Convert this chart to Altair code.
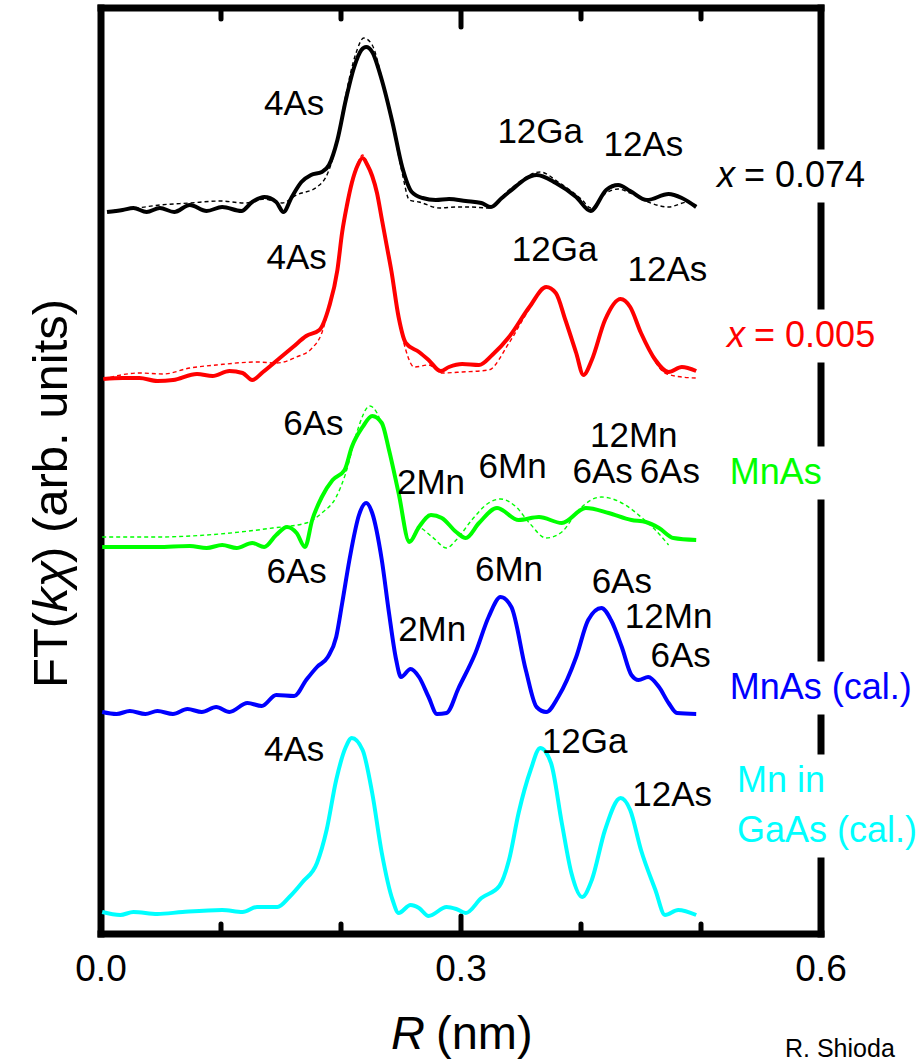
import altair as alt
import pandas as pd

FONT = "Liberation Sans"

# ---------------- data ----------------
# R in nm, FT magnitude in arb. units above each curve's own baseline
black_R = [0.005, 0.018, 0.027, 0.038, 0.049, 0.061, 0.074, 0.088, 0.101, 0.117,
           0.126, 0.136, 0.146, 0.152, 0.159, 0.167, 0.175, 0.184, 0.190, 0.197,
           0.204, 0.211, 0.217, 0.221, 0.226, 0.234, 0.243, 0.251, 0.259, 0.268,
           0.279, 0.290, 0.304, 0.317, 0.325, 0.334, 0.340, 0.363, 0.379, 0.396,
           0.408, 0.421, 0.431, 0.441, 0.455, 0.473, 0.484, 0.496]
black_ft = [0, 2, 4, 0, 4, 0, 7, 1, 5, 1,
            10, 15, 10, 0, 15, 30, 37, 40, 47, 72,
            112, 145, 162, 165, 160, 132, 89, 45, 20, 14,
            12, 13, 11, 9, 5, 14, 20, 37, 29, 15,
            1, 22, 27, 21, 12, 18, 14, 5]

black_fit_R = [0.005, 0.024, 0.049, 0.074, 0.099, 0.120, 0.136, 0.151, 0.163, 0.180,
               0.189, 0.197, 0.204, 0.212, 0.219, 0.226, 0.234, 0.243, 0.251, 0.257,
               0.265, 0.282, 0.296, 0.307, 0.323, 0.340, 0.366, 0.381, 0.401, 0.408,
               0.421, 0.431, 0.441, 0.456, 0.473, 0.489, 0.496]
black_fit_ft = [1, 3, 7, 9, 11, 9, 13, 9, 17, 25,
                39, 72, 117, 157, 174, 167, 134, 87, 39, 12,
                10, 4, 5, 5, 4, 22, 40, 30, 12, 4,
                19, 23, 19, 10, 5, 10, 7]

red_R = [0.002, 0.018, 0.032, 0.047, 0.060, 0.080, 0.093, 0.107, 0.118, 0.126,
         0.135, 0.149, 0.160, 0.171, 0.182, 0.190, 0.197, 0.201, 0.205, 0.209,
         0.214, 0.218, 0.222, 0.226, 0.230, 0.234, 0.238, 0.242, 0.248, 0.254,
         0.265, 0.273, 0.283, 0.290, 0.301, 0.315, 0.326, 0.340, 0.357, 0.371,
         0.379, 0.387, 0.396, 0.402, 0.409, 0.420, 0.433, 0.441, 0.450, 0.462,
         0.473, 0.484, 0.496]
red_ft = [0, 1, 1, -2, -1, 5, 3, 8, 6, -1,
          7, 21, 32, 43, 49, 72, 109, 147, 174, 196,
          214, 221, 214, 203, 186, 160, 134, 108, 62, 36,
          27, 19, 8, 12, 15, 14, 24, 42, 72, 92,
          86, 59, 26, 4, 19, 59, 80, 72, 46, 19,
          7, 12, 8]

red_fit_R = [0.002, 0.032, 0.052, 0.074, 0.096, 0.130, 0.146, 0.163, 0.176, 0.184,
             0.190, 0.197, 0.201, 0.205, 0.209, 0.214, 0.218, 0.222, 0.226, 0.230,
             0.234, 0.238, 0.242, 0.248, 0.254, 0.261, 0.273, 0.284, 0.301, 0.323,
             0.340, 0.357, 0.371, 0.379, 0.387, 0.396, 0.402, 0.409, 0.420, 0.433,
             0.441, 0.450, 0.462, 0.470, 0.484, 0.496]
red_fit_ft = [0, 6, 5, 11, 14, 17, 16, 22, 31, 46,
              72, 111, 150, 177, 198, 216, 224, 216, 204, 187,
              160, 134, 108, 61, 29, 12, 14, 6, 7, 9,
              36, 70, 91, 86, 59, 26, 5, 19, 59, 80,
              72, 46, 17, 6, 2, 1]

green_R = [0.001, 0.018, 0.047, 0.074, 0.088, 0.101, 0.113, 0.126, 0.136, 0.146,
           0.155, 0.163, 0.170, 0.176, 0.184, 0.193, 0.203, 0.209, 0.218, 0.226,
           0.234, 0.240, 0.248, 0.257, 0.265, 0.275, 0.284, 0.296, 0.304, 0.315,
           0.330, 0.348, 0.365, 0.384, 0.404, 0.423, 0.442, 0.454, 0.465, 0.477,
           0.496]
green_ft = [0, 0, 0, 1, -1, 2, -1, 4, 0, 12,
            20, 14, 0, 27, 50, 67, 77, 100, 120, 131,
            124, 97, 54, 5, 20, 32, 29, 15, 9, 24,
            39, 27, 30, 24, 39, 34, 27, 25, 19, 9,
            7]

green_fit_R = [0.001, 0.047, 0.088, 0.116, 0.143, 0.171, 0.184, 0.196, 0.204, 0.213,
               0.224, 0.230, 0.240, 0.248, 0.257, 0.265, 0.276, 0.288, 0.296, 0.309,
               0.323, 0.333, 0.346, 0.357, 0.371, 0.384, 0.398, 0.417, 0.437, 0.450,
               0.462, 0.473]
green_fit_ft = [10, 10, 12, 15, 19, 24, 34, 50, 74, 114,
                141, 134, 97, 54, 7, 19, 10, -1, 7, 27,
                44, 48, 40, 24, 9, 15, 37, 50, 42, 30,
                17, 2]

blue_R = [0.001, 0.013, 0.024, 0.037, 0.047, 0.060, 0.072, 0.084, 0.096, 0.107,
          0.122, 0.134, 0.146, 0.161, 0.171, 0.180, 0.189, 0.196, 0.201, 0.207,
          0.209, 0.215, 0.221, 0.226, 0.234, 0.240, 0.246, 0.250, 0.258, 0.265,
          0.273, 0.280, 0.288, 0.298, 0.312, 0.323, 0.333, 0.342, 0.354, 0.363,
          0.371, 0.381, 0.396, 0.406, 0.417, 0.425, 0.434, 0.442, 0.448, 0.456,
          0.465, 0.473, 0.480, 0.496]
blue_ft = [1, -1, 2, -1, 2, -1, 4, 1, 6, 1,
           10, 7, 18, 17, 33, 46, 56, 76, 110, 153,
           166, 198, 210, 200, 153, 100, 53, 36, 44, 36,
           16, -1, 0, 25, 60, 96, 116, 106, 43, 6,
           1, 16, 56, 93, 105, 93, 66, 38, 33, 36,
           26, 10, 0, -1]

cyan_R = [0.001, 0.016, 0.027, 0.047, 0.068, 0.101, 0.118, 0.130, 0.147, 0.157,
          0.168, 0.180, 0.188, 0.196, 0.204, 0.209, 0.218, 0.226, 0.234, 0.243,
          0.248, 0.258, 0.265, 0.273, 0.288, 0.296, 0.304, 0.317, 0.332, 0.340,
          0.348, 0.358, 0.366, 0.375, 0.384, 0.392, 0.401, 0.409, 0.420, 0.433,
          0.441, 0.450, 0.462, 0.470, 0.481, 0.496]
cyan_ft = [1, -2, 1, -1, 1, 3, 1, 6, 6, 16,
           31, 50, 83, 133, 166, 175, 163, 120, 60, 13,
           0, 8, 5, -3, 6, 4, 0, 15, 27, 53,
           100, 143, 165, 150, 90, 40, 16, 33, 83, 115,
           103, 63, 23, -2, 3, -2]

# vertical offsets used to stack the spectra (arb. units)
series_names = ["x = 0.074", "x = 0.005", "MnAs", "MnAs (cal.)", "Mn in GaAs (cal.)"]
series_offsets = [722, 555, 387, 221, 21]
series_colors = ["#000000", "#ff0000", "#00ff00", "#0000ff", "#00ffff"]

# peak assignments: text, R position, height
ann_text = ["4As", "12Ga", "12As",
            "4As", "12Ga", "12As",
            "6As", "2Mn", "6Mn", "12Mn", "6As", "6As",
            "6As", "2Mn", "6Mn", "6As", "12Mn", "6As",
            "4As", "12Ga", "12As"]
ann_R = [0.161, 0.366, 0.452,
         0.163, 0.378, 0.472,
         0.177, 0.275, 0.343, 0.444, 0.418, 0.474,
         0.163, 0.276, 0.340, 0.434, 0.473, 0.483,
         0.161, 0.403, 0.476]
ann_y = [830, 802, 789,
         676, 684, 664,
         510, 451, 467, 498, 462, 462,
         362, 304, 364, 352, 317, 278,
         184, 192, 139]

# labels at the right of each spectrum
side_italic = ["x", "x", "", "", "", ""]
side_text = ["= 0.074", "= 0.005", "MnAs", "MnAs (cal.)", "Mn in", "GaAs (cal.)"]
side_R = [0.5133, 0.5217, 0.524, 0.524, 0.530, 0.530]
side_y = [758, 598, 461, 246, 153, 103]
side_color = ["#000000", "#ff0000", "#00ff00", "#0000ff", "#00ffff", "#00ffff"]
side_group = [0, 1, 2, 3, 4, 4]

x_ticks = [0.1, 0.2, 0.3, 0.4, 0.5]
x_tick_labels = ["0.0", "0.3", "0.6"]
x_tick_label_vals = [0.0, 0.3, 0.6]

XMAX = 0.6
YMAX = 926

# ---------------- build tables ----------------
curves = [
    (black_R, black_ft, 0, False), (black_fit_R, black_fit_ft, 0, True),
    (red_R, red_ft, 1, False), (red_fit_R, red_fit_ft, 1, True),
    (green_R, green_ft, 2, False), (green_fit_R, green_fit_ft, 2, True),
    (blue_R, blue_ft, 3, False),
    (cyan_R, cyan_ft, 4, False),
]
rows = []
for R, ft, idx, dashed in curves:
    for r, v in zip(R, ft):
        rows.append({"series": series_names[idx] + (" fit" if dashed else ""),
                     "R": r, "y": series_offsets[idx] + v,
                     "color": series_colors[idx], "dashed": dashed})
df = pd.DataFrame(rows)

xs = alt.Scale(domain=[0, XMAX], nice=False, zero=False)
ys = alt.Scale(domain=[0, YMAX], nice=False, zero=False)


def X(field="x"):
    return alt.X(f"{field}:Q", scale=xs, axis=None)


def Y(field="y"):
    return alt.Y(f"{field}:Q", scale=ys, axis=None)


dashed_layer = alt.Chart(df[df["dashed"]]).mark_line(
    strokeWidth=1.4, strokeDash=[4, 3], interpolate="monotone"
).encode(x=X("R"), y=Y("y"), color=alt.Color("color:N", scale=None),
         detail="series:N", order="R:Q")

solid_layer = alt.Chart(df[~df["dashed"]]).mark_line(
    strokeWidth=4, interpolate="monotone", strokeJoin="round"
).encode(x=X("R"), y=Y("y"), color=alt.Color("color:N", scale=None),
         detail="series:N", order="R:Q")

# frame: left, top, bottom full; right interrupted where the labels sit
gaps = {}
for g, yv in zip(side_group, side_y):
    lo, hi = gaps.get(g, (yv, yv))
    gaps[g] = (min(lo, yv), max(hi, yv))
gap_list = sorted((lo - 30, hi + 30) for lo, hi in gaps.values())
frame_rows = [
    {"x": 0, "x2": 0, "y": 0, "y2": YMAX},
    {"x": 0, "x2": XMAX, "y": YMAX, "y2": YMAX},
    {"x": 0, "x2": XMAX, "y": 0, "y2": 0},
]
start = 0
for lo, hi in gap_list:
    frame_rows.append({"x": XMAX, "x2": XMAX, "y": start, "y2": lo})
    start = hi
frame_rows.append({"x": XMAX, "x2": XMAX, "y": start, "y2": YMAX})
frame = alt.Chart(pd.DataFrame(frame_rows)).mark_rule(
    strokeWidth=7, color="black", strokeCap="square"
).encode(x=X("x"), x2="x2:Q", y=Y("y"), y2="y2:Q")

tick_rows = []
for t in x_ticks:
    L = 19 if abs(t - 0.3) < 1e-9 else 11
    tick_rows.append({"x": t, "y": YMAX, "y2": YMAX - L})
    tick_rows.append({"x": t, "y": 0, "y2": L - 1})
ticks = alt.Chart(pd.DataFrame(tick_rows)).mark_rule(
    strokeWidth=5, color="black", strokeCap="round"
).encode(x=X("x"), y=Y("y"), y2="y2:Q")

tick_labels = alt.Chart(pd.DataFrame({"x": x_tick_label_vals, "y": [-36] * 3,
                                      "t": x_tick_labels})).mark_text(
    font=FONT, fontSize=37, align="center", baseline="middle", color="black"
).encode(x=X("x"), y=Y("y"), text="t:N")

ann = alt.Chart(pd.DataFrame({"x": ann_R, "y": ann_y, "t": ann_text})).mark_text(
    font=FONT, fontSize=35, align="center", baseline="middle", color="black"
).encode(x=X("x"), y=Y("y"), text="t:N")

side_df = pd.DataFrame({"x": side_R, "y": side_y, "t": side_text, "it": side_italic,
                        "color": side_color})
side_it = alt.Chart(side_df[side_df["it"] != ""]).mark_text(
    font=FONT, fontSize=36, align="left", baseline="middle", fontStyle="italic"
).encode(x=X("x"), y=Y("y"), text="it:N", color=alt.Color("color:N", scale=None))
side_norm_x = alt.Chart(side_df[side_df["it"] != ""]).mark_text(
    font=FONT, fontSize=36, align="left", baseline="middle", dx=27
).encode(x=X("x"), y=Y("y"), text="t:N", color=alt.Color("color:N", scale=None))
side_norm = alt.Chart(side_df[side_df["it"] == ""]).mark_text(
    font=FONT, fontSize=36, align="left", baseline="middle"
).encode(x=X("x"), y=Y("y"), text="t:N", color=alt.Color("color:N", scale=None))

# axis titles (mixed italic)
xt_it = alt.Chart(pd.DataFrame({"x": [0.2700], "y": [-101], "t": ["R"]})).mark_text(
    font=FONT, fontSize=47, align="right", baseline="middle", fontStyle="italic", color="black"
).encode(x=X("x"), y=Y("y"), text="t:N")
xt_n = alt.Chart(pd.DataFrame({"x": [0.2792], "y": [-101], "t": ["(nm)"]})).mark_text(
    font=FONT, fontSize=47, align="left", baseline="middle", color="black"
).encode(x=X("x"), y=Y("y"), text="t:N")

yt_df = pd.DataFrame({"x": [-0.041, -0.041, -0.041], "y": [246, 322, 371],
                      "t": ["FT(", "kχ", ") (arb. units)"], "it": [False, True, False]})
yt_n = alt.Chart(yt_df[~yt_df["it"]]).mark_text(
    font=FONT, fontSize=49, align="left", baseline="middle", angle=270, color="black"
).encode(x=X("x"), y=Y("y"), text="t:N")
yt_it = alt.Chart(yt_df[yt_df["it"]]).mark_text(
    font=FONT, fontSize=49, align="left", baseline="middle", angle=270,
    fontStyle="italic", color="black"
).encode(x=X("x"), y=Y("y"), text="t:N")

credit = alt.Chart(pd.DataFrame({"x": [0.570], "y": [-103], "t": ["R. Shioda"]})).mark_text(
    font=FONT, fontSize=25, align="left", baseline="top", color="black"
).encode(x=X("x"), y=Y("y"), text="t:N")

chart = alt.layer(
    frame, ticks, dashed_layer, solid_layer, ann, side_it, side_norm_x, side_norm,
    tick_labels, xt_it, xt_n, yt_n, yt_it, credit
).properties(
    width=720, height=YMAX,
    padding={"left": 101, "top": 8, "right": 99, "bottom": 129},
    autosize=alt.AutoSizeParams(type="none"),
).configure_view(stroke=None)

chart.save("out.html", embed_options={"renderer": "svg", "actions": False})
